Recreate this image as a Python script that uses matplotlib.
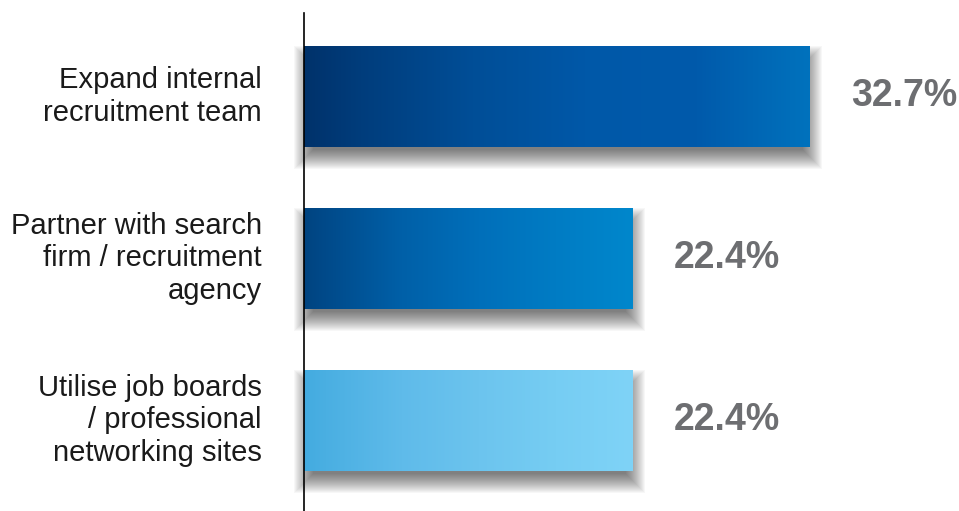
import matplotlib
matplotlib.use("Agg")
import matplotlib.pyplot as plt
import numpy as np
from matplotlib.colors import LinearSegmentedColormap
from matplotlib.patches import Rectangle
from matplotlib.transforms import IdentityTransform

# data
categories = ["Expand internal\nrecruitment team",
              "Partner with search\nfirm / recruitment\nagency",
              "Utilise job boards\n/ professional\nnetworking sites"]
values = [32.7, 22.4, 22.4]
value_labels = ["32.7%", "22.4%", "22.4%"]

# gradient colours per bar (left -> right)
gradients = [
    ["#00275a", "#003d7c", "#004e97", "#0058a8", "#005aab", "#0072bd"],
    ["#003366", "#004a8a", "#0060a8", "#006fba", "#007cc4", "#0087cc"],
    ["#31a1db", "#4aafe2", "#5fbbea", "#6cc4ee", "#76cdf3", "#7fd3f7"],
]

plt.rcParams['font.family'] = ['Liberation Sans', 'DejaVu Sans']

fig = plt.figure(figsize=(9.59, 5.11), dpi=100)
ax = fig.add_axes([304 / 959, 0, 1 - 304 / 959, 1 - 13 / 511])

bar_h = 0.623
ys = np.arange(len(values))

for y, v, cols in zip(ys, values, gradients):
    cmap = LinearSegmentedColormap.from_list("g", cols)
    grad = cmap(np.linspace(0, 1, 256))[None, :, :]
    ax.imshow(grad, extent=[0, v, y + bar_h / 2, y - bar_h / 2],
              aspect='auto', zorder=3, interpolation='bilinear')

x0 = 3.25
ax.set_xlim(x0, 41.4)
ax.set_ylim(2.559, -0.515)

# soft drop shadows (drawn in pixel space)
fig.canvas.draw()
for y, v in zip(ys, values):
    (px0, py0), (px1, py1) = ax.transData.transform(
        [(x0, y + bar_h / 2), (v, y - bar_h / 2)])
    for k in range(20):
        pad = -8 + k
        r = Rectangle((px0 - pad + 1, py0 - 11 - pad),
                      (px1 - px0) + 2 * pad, (py1 - py0) + 2 * pad,
                      transform=IdentityTransform(), facecolor='black',
                      edgecolor='none', alpha=0.03, zorder=1, clip_on=False)
        ax.add_artist(r)

for y, v, lab in zip(ys, values, value_labels):
    ax.annotate(lab, xy=(v, y), xytext=(41, 0), textcoords='offset pixels',
                ha='left', va='center', fontsize=27, fontweight='bold',
                color='#6d6e71', zorder=4)

for y, c in zip(ys, categories):
    ax.annotate(c, xy=(x0, y), xytext=(-42, 0), textcoords='offset pixels',
                ha='right', va='center', fontsize=21, color='#1a1a1a',
                linespacing=1.2, annotation_clip=False)

for s in ['top', 'right', 'bottom']:
    ax.spines[s].set_visible(False)
ax.spines['left'].set_color('black')
ax.spines['left'].set_linewidth(1.2)
ax.spines['left'].set_zorder(5)
ax.set_xticks([])
ax.set_yticks([])
ax.patch.set_alpha(0)

fig.savefig("out.png", dpi=100)
